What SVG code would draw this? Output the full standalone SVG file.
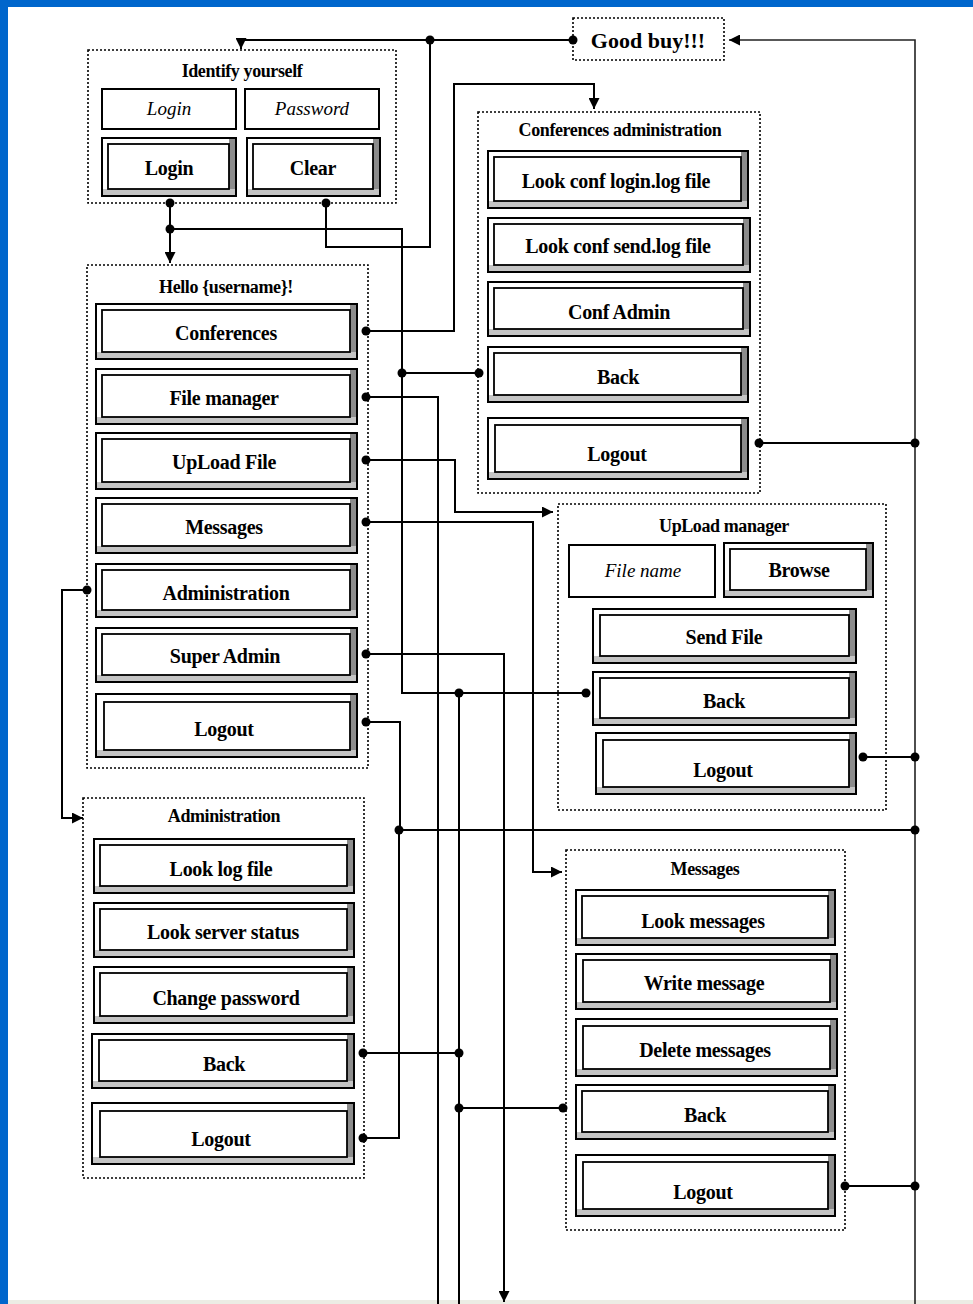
<svg xmlns="http://www.w3.org/2000/svg" width="973" height="1304" viewBox="0 0 973 1304">
<style>
.frame{fill:#0066CC}
.grp{fill:none;stroke:#000;stroke-width:1.6;stroke-dasharray:2 2}
.bo{fill:#fff;stroke:#000;stroke-width:2}
.dk{fill:#8c8c8c}
.lt{fill:#c4c4c4}
.in{fill:#fff;stroke:#000;stroke-width:1.8}
.inp{fill:#fff;stroke:#000;stroke-width:2}
.bt{font-family:"Liberation Serif","DejaVu Serif",serif;font-weight:bold;font-size:20px;text-anchor:middle;fill:#000;letter-spacing:-0.3px}
.tt{font-family:"Liberation Serif","DejaVu Serif",serif;font-weight:bold;font-size:18px;text-anchor:middle;fill:#000;letter-spacing:-0.4px}
.it{font-family:"Liberation Serif","DejaVu Serif",serif;font-style:italic;font-size:19px;text-anchor:middle;fill:#000}
.gb{font-family:"Liberation Serif","DejaVu Serif",serif;font-weight:bold;font-size:22px;text-anchor:middle;fill:#000}
.ln{fill:none;stroke:#000;stroke-width:2}
.lt2{fill:none;stroke:#222;stroke-width:1.6}
.dot{fill:#000}
</style>
<defs>
<marker id="arr" viewBox="0 0 10 10" refX="10" refY="5" markerWidth="11" markerHeight="11" markerUnits="userSpaceOnUse" orient="auto">
<path d="M0,0 L10,5 L0,10 z" fill="#000"/>
</marker>
</defs>
<rect x="0" y="0" width="973" height="1304" fill="#fff"/>
<rect class="frame" x="0" y="0" width="973" height="7"/>
<rect class="frame" x="0" y="0" width="8" height="1304"/>
<rect x="8" y="1300" width="965" height="4" fill="#ecece4"/>

<g id="connectors">
<path class="ln" d="M573,40 H241 V49" marker-end="url(#arr)"/>
<path class="ln" d="M326,203 V247 H430 V40"/>
<path class="ln" d="M170,203 V263" marker-end="url(#arr)"/>
<path class="ln" d="M170,229 H402 V693 H586"/>
<path class="ln" d="M402,373 H479"/>
<path class="ln" d="M459,693 V1304"/>
<path class="ln" d="M363,1053 H459"/>
<path class="ln" d="M563,1108 H459"/>
<path class="ln" d="M366,331 H454 V84 H594 V109" marker-end="url(#arr)"/>
<path class="ln" d="M366,397 H438 V1304"/>
<path class="ln" d="M366,460 H455 V512 H553" marker-end="url(#arr)"/>
<path class="ln" d="M366,522 H533 V872 H562" marker-end="url(#arr)"/>
<path class="ln" d="M87,590 H62 V818 H83" marker-end="url(#arr)"/>
<path class="ln" d="M366,654 H504 V1302" marker-end="url(#arr)"/>
<path class="ln" d="M366,722 H400 V830"/>
<path class="ln" d="M363,1138 H399 V830 H915"/>
<path class="lt2" d="M915,1304 V40 H729" marker-end="url(#arr)"/>
<path class="ln" d="M759,443 H915"/>
<path class="ln" d="M863,757 H915"/>
<path class="ln" d="M845,1186 H915"/>
<circle class="dot" cx="573" cy="40" r="4.5"/>
<circle class="dot" cx="430" cy="40" r="4.5"/>
<circle class="dot" cx="326" cy="203" r="4.5"/>
<circle class="dot" cx="170" cy="203" r="4.5"/>
<circle class="dot" cx="170" cy="229" r="4.5"/>
<circle class="dot" cx="402" cy="373" r="4.5"/>
<circle class="dot" cx="479" cy="373" r="4.5"/>
<circle class="dot" cx="586" cy="693" r="4.5"/>
<circle class="dot" cx="459" cy="693" r="4.5"/>
<circle class="dot" cx="363" cy="1053" r="4.5"/>
<circle class="dot" cx="459" cy="1053" r="4.5"/>
<circle class="dot" cx="459" cy="1108" r="4.5"/>
<circle class="dot" cx="563" cy="1108" r="4.5"/>
<circle class="dot" cx="366" cy="331" r="4.5"/>
<circle class="dot" cx="366" cy="397" r="4.5"/>
<circle class="dot" cx="366" cy="460" r="4.5"/>
<circle class="dot" cx="366" cy="522" r="4.5"/>
<circle class="dot" cx="87" cy="590" r="4.5"/>
<circle class="dot" cx="366" cy="654" r="4.5"/>
<circle class="dot" cx="366" cy="722" r="4.5"/>
<circle class="dot" cx="363" cy="1138" r="4.5"/>
<circle class="dot" cx="399" cy="830" r="4.5"/>
<circle class="dot" cx="915" cy="830" r="4.5"/>
<circle class="dot" cx="759" cy="443" r="4.5"/>
<circle class="dot" cx="915" cy="443" r="4.5"/>
<circle class="dot" cx="863" cy="757" r="4.5"/>
<circle class="dot" cx="915" cy="757" r="4.5"/>
<circle class="dot" cx="845" cy="1186" r="4.5"/>
<circle class="dot" cx="915" cy="1186" r="4.5"/>
</g>

<g id="goodbuy">
<rect class="grp" x="573" y="18" width="151" height="42"/>
<text class="gb" x="648" y="48">Good buy!!!</text>
</g>

<g id="identify">
<rect class="grp" x="88" y="50" width="308" height="153"/>
<text class="tt" x="242" y="77">Identify yourself</text>
<rect class="inp" x="102" y="89" width="134" height="40"/>
<text class="it" x="169" y="115">Login</text>
<rect class="inp" x="245" y="89" width="134" height="40"/>
<text class="it" x="312" y="115">Password</text>
<rect class="bo" x="102" y="138" width="134" height="58"/><rect class="dk" x="229" y="139" width="6" height="56"/><rect class="lt" x="103" y="189" width="132" height="6"/><rect class="in" x="108" y="144" width="121" height="45"/>
<text class="bt" x="169" y="175">Login</text>
<rect class="bo" x="247" y="138" width="133" height="58"/><rect class="dk" x="373" y="139" width="6" height="56"/><rect class="lt" x="248" y="189" width="131" height="6"/><rect class="in" x="253" y="144" width="120" height="45"/>
<text class="bt" x="313" y="175">Clear</text>
</g>

<g id="confadmin">
<rect class="grp" x="478" y="112" width="282" height="381"/>
<text class="tt" x="620" y="136">Conferences administration</text>
<rect class="bo" x="488" y="151" width="260" height="57"/><rect class="dk" x="741" y="152" width="6" height="55"/><rect class="lt" x="489" y="201" width="258" height="6"/><rect class="in" x="494" y="157" width="247" height="44"/>
<text class="bt" x="616" y="188">Look conf login.log file</text>
<rect class="bo" x="488" y="218" width="262" height="54"/><rect class="dk" x="743" y="219" width="6" height="52"/><rect class="lt" x="489" y="265" width="260" height="6"/><rect class="in" x="494" y="224" width="249" height="41"/>
<text class="bt" x="618" y="253">Look conf send.log file</text>
<rect class="bo" x="488" y="282" width="262" height="54"/><rect class="dk" x="743" y="283" width="6" height="52"/><rect class="lt" x="489" y="329" width="260" height="6"/><rect class="in" x="494" y="288" width="249" height="41"/>
<text class="bt" x="619" y="319">Conf Admin</text>
<rect class="bo" x="488" y="347" width="260" height="55"/><rect class="dk" x="741" y="348" width="6" height="53"/><rect class="lt" x="489" y="395" width="258" height="6"/><rect class="in" x="494" y="353" width="247" height="42"/>
<text class="bt" x="618" y="384">Back</text>
<rect class="bo" x="488" y="418" width="260" height="61"/><rect class="dk" x="741" y="419" width="6" height="59"/><rect class="lt" x="489" y="472" width="258" height="6"/><rect class="in" x="495" y="425" width="246" height="47"/>
<text class="bt" x="617" y="461">Logout</text>
</g>

<g id="hello">
<rect class="grp" x="87" y="265" width="281" height="503"/>
<text class="tt" x="226" y="293">Hello {username}!</text>
<rect class="bo" x="96" y="304" width="261" height="55"/><rect class="dk" x="350" y="305" width="6" height="53"/><rect class="lt" x="97" y="352" width="259" height="6"/><rect class="in" x="102" y="310" width="248" height="42"/>
<text class="bt" x="226" y="340">Conferences</text>
<rect class="bo" x="96" y="369" width="261" height="55"/><rect class="dk" x="350" y="370" width="6" height="53"/><rect class="lt" x="97" y="417" width="259" height="6"/><rect class="in" x="102" y="375" width="248" height="42"/>
<text class="bt" x="224" y="405">File manager</text>
<rect class="bo" x="96" y="433" width="261" height="56"/><rect class="dk" x="350" y="434" width="6" height="54"/><rect class="lt" x="97" y="482" width="259" height="6"/><rect class="in" x="102" y="439" width="248" height="43"/>
<text class="bt" x="224" y="469">UpLoad File</text>
<rect class="bo" x="96" y="498" width="261" height="55"/><rect class="dk" x="350" y="499" width="6" height="53"/><rect class="lt" x="97" y="546" width="259" height="6"/><rect class="in" x="102" y="504" width="248" height="42"/>
<text class="bt" x="224" y="534">Messages</text>
<rect class="bo" x="96" y="564" width="261" height="53"/><rect class="dk" x="350" y="565" width="6" height="51"/><rect class="lt" x="97" y="610" width="259" height="6"/><rect class="in" x="102" y="570" width="248" height="40"/>
<text class="bt" x="226" y="600">Administration</text>
<rect class="bo" x="96" y="628" width="261" height="54"/><rect class="dk" x="350" y="629" width="6" height="52"/><rect class="lt" x="97" y="675" width="259" height="6"/><rect class="in" x="102" y="634" width="248" height="41"/>
<text class="bt" x="225" y="663">Super Admin</text>
<rect class="bo" x="96" y="694" width="261" height="63"/><rect class="dk" x="350" y="695" width="6" height="61"/><rect class="lt" x="97" y="750" width="259" height="6"/><rect class="in" x="104" y="702" width="246" height="48"/>
<text class="bt" x="224" y="736">Logout</text>
</g>

<g id="uploadmgr">
<rect class="grp" x="558" y="504" width="328" height="306"/>
<text class="tt" x="724" y="532">UpLoad manager</text>
<rect class="inp" x="569" y="545" width="146" height="52"/>
<text class="it" x="643" y="577">File name</text>
<rect class="bo" x="724" y="543" width="149" height="54"/><rect class="dk" x="866" y="544" width="6" height="52"/><rect class="lt" x="725" y="590" width="147" height="6"/><rect class="in" x="730" y="549" width="136" height="41"/>
<text class="bt" x="799" y="577">Browse</text>
<rect class="bo" x="593" y="609" width="263" height="54"/><rect class="dk" x="849" y="610" width="6" height="52"/><rect class="lt" x="594" y="656" width="261" height="6"/><rect class="in" x="600" y="615" width="249" height="41"/>
<text class="bt" x="724" y="644">Send File</text>
<rect class="bo" x="593" y="672" width="263" height="53"/><rect class="dk" x="849" y="673" width="6" height="51"/><rect class="lt" x="594" y="718" width="261" height="6"/><rect class="in" x="600" y="678" width="249" height="40"/>
<text class="bt" x="724" y="708">Back</text>
<rect class="bo" x="596" y="733" width="260" height="61"/><rect class="dk" x="849" y="734" width="6" height="59"/><rect class="lt" x="597" y="787" width="258" height="6"/><rect class="in" x="603" y="740" width="246" height="47"/>
<text class="bt" x="723" y="777">Logout</text>
</g>

<g id="administration">
<rect class="grp" x="83" y="798" width="281" height="380"/>
<text class="tt" x="224" y="822">Administration</text>
<rect class="bo" x="94" y="839" width="260" height="54"/><rect class="dk" x="347" y="840" width="6" height="52"/><rect class="lt" x="95" y="886" width="258" height="6"/><rect class="in" x="100" y="845" width="247" height="41"/>
<text class="bt" x="221" y="876">Look log file</text>
<rect class="bo" x="94" y="903" width="260" height="54"/><rect class="dk" x="347" y="904" width="6" height="52"/><rect class="lt" x="95" y="950" width="258" height="6"/><rect class="in" x="100" y="909" width="247" height="41"/>
<text class="bt" x="223" y="939">Look server status</text>
<rect class="bo" x="94" y="967" width="260" height="56"/><rect class="dk" x="347" y="968" width="6" height="54"/><rect class="lt" x="95" y="1016" width="258" height="6"/><rect class="in" x="100" y="973" width="247" height="43"/>
<text class="bt" x="226" y="1005">Change password</text>
<rect class="bo" x="92" y="1034" width="262" height="54"/><rect class="dk" x="347" y="1035" width="6" height="52"/><rect class="lt" x="93" y="1081" width="260" height="6"/><rect class="in" x="99" y="1040" width="248" height="41"/>
<text class="bt" x="224" y="1071">Back</text>
<rect class="bo" x="92" y="1103" width="262" height="61"/><rect class="dk" x="347" y="1104" width="6" height="59"/><rect class="lt" x="93" y="1157" width="260" height="6"/><rect class="in" x="100" y="1111" width="247" height="46"/>
<text class="bt" x="221" y="1146">Logout</text>
</g>

<g id="messages">
<rect class="grp" x="566" y="850" width="279" height="380"/>
<text class="tt" x="705" y="875">Messages</text>
<rect class="bo" x="576" y="890" width="259" height="55"/><rect class="dk" x="828" y="891" width="6" height="53"/><rect class="lt" x="577" y="938" width="257" height="6"/><rect class="in" x="582" y="896" width="246" height="42"/>
<text class="bt" x="703" y="928">Look messages</text>
<rect class="bo" x="576" y="954" width="261" height="55"/><rect class="dk" x="830" y="955" width="6" height="53"/><rect class="lt" x="577" y="1002" width="259" height="6"/><rect class="in" x="583" y="960" width="247" height="42"/>
<text class="bt" x="704" y="990">Write message</text>
<rect class="bo" x="576" y="1019" width="261" height="57"/><rect class="dk" x="830" y="1020" width="6" height="55"/><rect class="lt" x="577" y="1069" width="259" height="6"/><rect class="in" x="583" y="1026" width="247" height="43"/>
<text class="bt" x="705" y="1057">Delete messages</text>
<rect class="bo" x="576" y="1085" width="259" height="54"/><rect class="dk" x="828" y="1086" width="6" height="52"/><rect class="lt" x="577" y="1132" width="257" height="6"/><rect class="in" x="582" y="1091" width="246" height="41"/>
<text class="bt" x="705" y="1122">Back</text>
<rect class="bo" x="576" y="1155" width="259" height="61"/><rect class="dk" x="828" y="1156" width="6" height="59"/><rect class="lt" x="577" y="1209" width="257" height="6"/><rect class="in" x="583" y="1162" width="245" height="47"/>
<text class="bt" x="703" y="1199">Logout</text>
</g>
</svg>
